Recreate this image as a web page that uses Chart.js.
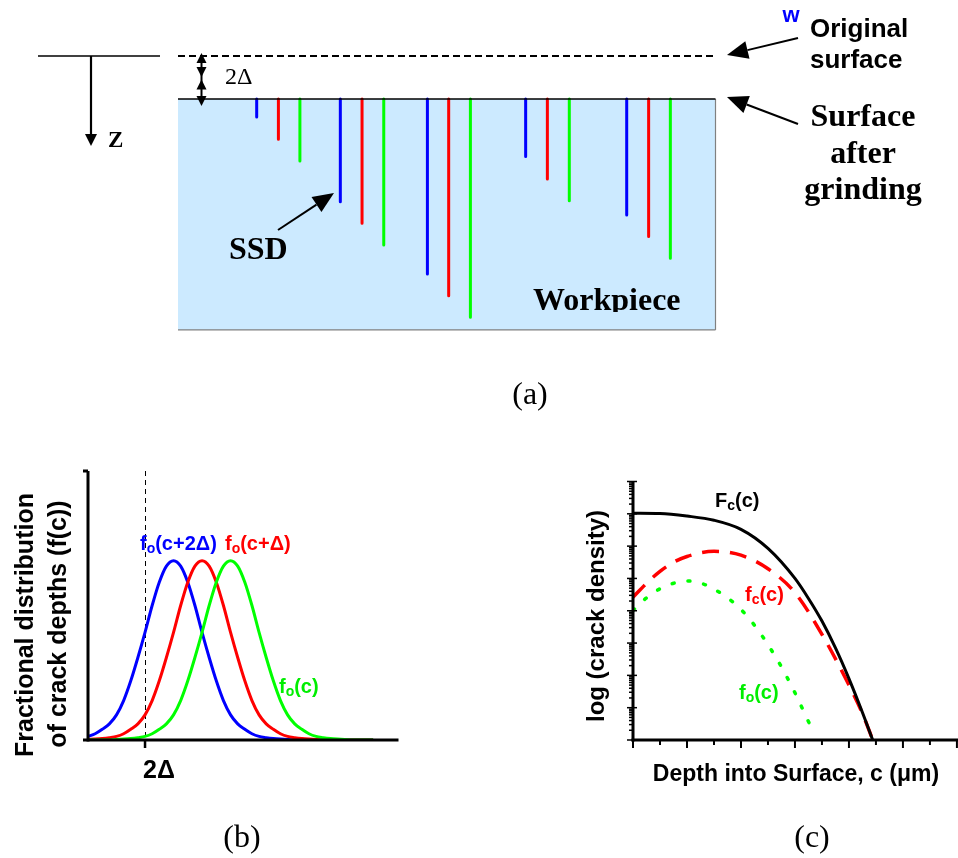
<!DOCTYPE html>
<html>
<head>
<meta charset="utf-8">
<title>Subsurface damage after grinding</title>
<script src="https://cdn.jsdelivr.net/npm/chart.js@4.4.1/dist/chart.umd.min.js"></script>
<style>
  body { margin: 0; background: #ffffff; }
  #figure { position: relative; width: 958px; height: 858px; }
  #figure canvas { position: absolute; left: 0; top: 0; }
</style>
</head>
<body>
<div id="figure">
  <canvas id="js--chart-a" width="958" height="858"></canvas>
  <canvas id="js--chart-b" width="958" height="858"></canvas>
  <canvas id="js--chart-c" width="958" height="858"></canvas>
</div>
<script>
// ---- panel (a): cracks under the ground surface, positions and depths in units of delta
const blueCrackX = [3.66, 7.55, 11.6, 16.17, 20.87];
const redCrackX = [4.67, 8.56, 12.59, 17.18, 21.89];
const greenCrackX = [5.67, 9.57, 13.6, 18.2, 22.9];
const blueCrackDepth = [0.84, 4.78, 8.14, 2.68, 5.40];
const redCrackDepth = [1.87, 5.78, 9.15, 3.72, 6.40];
const greenCrackDepth = [2.88, 6.79, 10.15, 4.73, 7.41];
const workpieceWidth = 25;
const workpieceDepth = 10.74;
const removedDepth = 2; // 2 delta taken off by grinding

// ---- panel (b): fractional distribution of crack depths, c in units of delta
const depthB = [0, 0.25, 0.5, 0.75, 1, 1.25, 1.5, 1.75, 2, 2.25, 2.5, 2.75, 3, 3.25, 3.5, 3.75, 4, 4.25, 4.5, 4.75,
    5, 5.25, 5.5, 5.75, 6, 6.25, 6.5, 6.75, 7, 7.25, 7.5, 7.75, 8, 8.25, 8.5, 8.75, 9, 9.25, 9.5, 9.75, 10];
const foPlus2 = [0.02, 0.035, 0.06, 0.09, 0.14, 0.22, 0.33, 0.46, 0.6, 0.75, 0.88, 0.97, 1.0, 0.97, 0.88, 0.75, 0.6, 0.46, 0.33, 0.22,
    0.14, 0.09, 0.06, 0.035, 0.02, 0.013, 0.008, 0.005, 0.003, 0, 0, 0, 0, 0, 0, 0, 0, 0, 0, 0, 0];
const foPlus1 = [0.003, 0.005, 0.008, 0.013, 0.02, 0.035, 0.06, 0.09, 0.14, 0.22, 0.33, 0.46, 0.6, 0.75, 0.88, 0.97, 1.0, 0.97, 0.88, 0.75,
    0.6, 0.46, 0.33, 0.22, 0.14, 0.09, 0.06, 0.035, 0.02, 0.013, 0.008, 0.005, 0.003, 0, 0, 0, 0, 0, 0, 0, 0];
const foB = [0, 0, 0, 0, 0.003, 0.005, 0.008, 0.013, 0.02, 0.035, 0.06, 0.09, 0.14, 0.22, 0.33, 0.46, 0.6, 0.75, 0.88, 0.97,
    1.0, 0.97, 0.88, 0.75, 0.6, 0.46, 0.33, 0.22, 0.14, 0.09, 0.06, 0.035, 0.02, 0.013, 0.008, 0.005, 0.003, 0, 0, 0, 0];
const tickB = 2; // the 2 delta mark

// ---- panel (c): log10 of crack density against depth
const bigFcX = [0, 0.5, 1, 1.5, 2, 2.5, 3, 3.25, 3.5, 3.75, 4, 4.25, 4.44];
const bigFcLog = [7.02, 7.01, 6.93, 6.80, 6.52, 5.93, 5.0, 4.38, 3.68, 2.85, 1.9, 0.85, 0.0];
const fcX = [0, 0.25, 0.5, 0.75, 1, 1.5, 2, 2.5, 3, 3.5, 4, 4.25, 4.44];
const fcLog = [4.42, 4.85, 5.22, 5.5, 5.68, 5.84, 5.72, 5.3, 4.56, 3.27, 1.7, 0.82, 0.0];
const foX = [0, 0.25, 0.5, 0.75, 1, 1.25, 1.5, 1.75, 2, 2.25, 2.5, 2.75, 3, 3.25, 3.34];
const foLog = [4.01, 4.4, 4.68, 4.85, 4.92, 4.86, 4.67, 4.4, 4.04, 3.55, 2.95, 2.26, 1.46, 0.57, 0.26];
const xTicksC = [0, 0.5, 1, 1.5, 2, 2.5, 3, 3.5, 4, 4.5, 5, 5.5, 6];
const decadesC = 8;

const SANS = "'Liberation Sans', Arial, sans-serif";
const SERIF = "'Liberation Serif', 'Times New Roman', serif";

function line(ctx, x1, y1, x2, y2) {
    ctx.beginPath();
    ctx.moveTo(x1, y1);
    ctx.lineTo(x2, y2);
    ctx.stroke();
}

function arrow(ctx, x1, y1, x2, y2, len, half, lw) {
    const a = Math.atan2(y2 - y1, x2 - x1);
    const bx = x2 - len * Math.cos(a);
    const by = y2 - len * Math.sin(a);
    ctx.lineWidth = lw;
    line(ctx, x1, y1, bx, by);
    ctx.beginPath();
    ctx.moveTo(x2, y2);
    ctx.lineTo(bx + half * Math.sin(a), by - half * Math.cos(a));
    ctx.lineTo(bx - half * Math.sin(a), by + half * Math.cos(a));
    ctx.closePath();
    ctx.fill();
}

// vertical arrow head only, dir 1 = pointing down
function head(ctx, x, tipY, dir, len, half) {
    ctx.beginPath();
    ctx.moveTo(x, tipY);
    ctx.lineTo(x - half, tipY - dir * len);
    ctx.lineTo(x + half, tipY - dir * len);
    ctx.closePath();
    ctx.fill();
}

// text with subscripts: parts = [[text, isSub], ...]
function richText(ctx, parts, x, y, size, color) {
    ctx.fillStyle = color;
    ctx.textAlign = "left";
    ctx.textBaseline = "alphabetic";
    let cx = x;
    parts.forEach(function (p) {
        const s = p[1] ? Math.round(size * 0.68) : size;
        ctx.font = "bold " + s + "px " + SANS;
        ctx.fillText(p[0], cx, p[1] ? y + size * 0.16 : y);
        cx += ctx.measureText(p[0]).width;
    });
}

function rotatedText(ctx, text, baseX, centerY, font) {
    ctx.save();
    ctx.translate(baseX, centerY);
    ctx.rotate(-Math.PI / 2);
    ctx.font = font;
    ctx.fillStyle = "#000";
    ctx.textAlign = "center";
    ctx.textBaseline = "alphabetic";
    ctx.fillText(text, 0, 0);
    ctx.restore();
}

function plainText(ctx, text, x, y, font, color, align) {
    ctx.font = font;
    ctx.fillStyle = color;
    ctx.textAlign = align || "left";
    ctx.textBaseline = "middle";
    ctx.fillText(text, x, y);
}

const common = {
    responsive: false,
    animation: false,
    events: [],
    plugins: { legend: { display: false }, tooltip: { enabled: false } }
};

// ================= panel (a) =================
const crackDatasets = [];
[[blueCrackX, blueCrackDepth, "#0000ff"], [redCrackX, redCrackDepth, "#ff0000"], [greenCrackX, greenCrackDepth, "#00ff00"]].forEach(function (set) {
    set[0].forEach(function (x, i) {
        crackDatasets.push({
            data: [{ x: x, y: 0 }, { x: x, y: set[1][i] }],
            borderColor: set[2],
            borderWidth: 3,
            borderCapStyle: "round",
            pointRadius: 0,
            clip: false
        });
    });
});

const aUnit = 21.5; // pixels per delta
const panelA = {
    id: "panelA",
    beforeDatasetsDraw(chart) {
        const ctx = chart.ctx, x = chart.scales.x, y = chart.scales.y;
        const left = x.getPixelForValue(0), right = x.getPixelForValue(workpieceWidth);
        const top = y.getPixelForValue(0), bottom = y.getPixelForValue(workpieceDepth);
        ctx.save();
        ctx.fillStyle = "#cceaff";
        ctx.fillRect(left, top, right - left, bottom - top);
        ctx.strokeStyle = "#808080";
        ctx.lineWidth = 1.2;
        line(ctx, right, top, right, bottom);
        line(ctx, left, bottom, right, bottom);
        ctx.restore();
    },
    afterDatasetsDraw(chart) {
        const ctx = chart.ctx, x = chart.scales.x, y = chart.scales.y;
        const left = x.getPixelForValue(0), right = x.getPixelForValue(workpieceWidth);
        const surf = y.getPixelForValue(0), orig = y.getPixelForValue(-removedDepth);
        const mid = y.getPixelForValue(-removedDepth / 2);
        ctx.save();
        ctx.strokeStyle = "#000";
        ctx.fillStyle = "#000";
        // ground surface
        ctx.lineWidth = 1.5;
        line(ctx, left, surf, right, surf);
        // original surface
        ctx.lineWidth = 2;
        ctx.setLineDash([7, 4]);
        line(ctx, left, orig, right, orig);
        ctx.setLineDash([]);
        // z reference
        ctx.lineWidth = 1.5;
        line(ctx, 38, orig, 160, orig);
        arrow(ctx, 91, orig, 91, 146, 12, 6, 2.2);
        // 2 delta double arrows
        const ax = Math.round(x.getPixelForValue(1.07)) + 0.5;
        ctx.lineWidth = 2;
        line(ctx, ax, orig, ax, surf + 4);
        head(ctx, ax, orig - 3, -1, 10, 5);
        head(ctx, ax, mid - 0.5, 1, 10, 5);
        head(ctx, ax, mid + 2, -1, 10, 5);
        head(ctx, ax, surf + 7, 1, 10, 5);
        // callout arrows
        arrow(ctx, 798, 38, 727, 55, 21, 9, 2);
        arrow(ctx, 798, 124, 727, 97, 21, 9, 2);
        arrow(ctx, 278, 230, 334, 193, 21, 9, 2);
        // texts
        plainText(ctx, "Z", 108, 141, "bold 23px " + SERIF, "#000");
        plainText(ctx, "2Δ", 225, 78, "24px " + SERIF, "#000");
        plainText(ctx, "SSD", 229, 251, "bold 32px " + SERIF, "#000");
        plainText(ctx, "w", 791, 16, "bold 22px " + SANS, "#0000ff", "center");
        plainText(ctx, "Original", 810, 30, "bold 26px " + SANS, "#000");
        plainText(ctx, "surface", 810, 61, "bold 26px " + SANS, "#000");
        plainText(ctx, "Surface", 863, 118, "bold 32px " + SERIF, "#000", "center");
        plainText(ctx, "after", 863, 155, "bold 32px " + SERIF, "#000", "center");
        plainText(ctx, "grinding", 863, 191, "bold 32px " + SERIF, "#000", "center");
        plainText(ctx, "(a)", 530, 396, "32px " + SERIF, "#000", "center");
        ctx.beginPath();
        ctx.rect(left, surf, right - left, 312 - surf);
        ctx.clip();
        ctx.font = "bold 32px " + SERIF;
        ctx.textBaseline = "alphabetic";
        ctx.textAlign = "left";
        ctx.fillText("Workpiece", 533, 310);
        ctx.restore();
    }
};

new Chart(document.getElementById("js--chart-a"), {
    type: "line",
    data: { datasets: crackDatasets },
    options: Object.assign({}, common, {
        layout: { padding: 0 },
        scales: {
            x: { type: "linear", display: false, min: -178 / aUnit, max: (958 - 178) / aUnit },
            y: { type: "linear", display: false, reverse: true, min: -99 / aUnit, max: (858 - 99) / aUnit }
        }
    }),
    plugins: [panelA]
});

// ================= panel (b) =================
const panelB = {
    id: "panelB",
    beforeDatasetsDraw(chart) {
        const ctx = chart.ctx, x = chart.scales.x, y = chart.scales.y;
        const px = Math.round(x.getPixelForValue(tickB)) + 0.5;
        ctx.save();
        ctx.strokeStyle = "#000";
        ctx.lineWidth = 1;
        ctx.setLineDash([5, 4]);
        line(ctx, px, y.top, px, y.bottom);
        ctx.restore();
    },
    afterDatasetsDraw(chart) {
        const ctx = chart.ctx, x = chart.scales.x, y = chart.scales.y;
        ctx.save();
        ctx.strokeStyle = "#000";
        ctx.lineWidth = 3;
        line(ctx, x.left, y.top, x.left, y.bottom + 1.5);
        line(ctx, x.left - 5, y.bottom, x.right, y.bottom);
        line(ctx, x.left - 5, y.top, x.left, y.top);
        const px = x.getPixelForValue(tickB);
        ctx.lineWidth = 2.5;
        line(ctx, px, y.bottom, px, y.bottom + 8);
        plainText(ctx, "2Δ", px + 14, 771, "bold 25px " + SANS, "#000", "center");
        richText(ctx, [["f", 0], ["o", 1], ["(c+2Δ)", 0]], 140, 550, 20, "#0000ff");
        richText(ctx, [["f", 0], ["o", 1], ["(c+Δ)", 0]], 225, 550, 20, "#ff0000");
        richText(ctx, [["f", 0], ["o", 1], ["(c)", 0]], 279, 693, 20, "#00ee00");
        rotatedText(ctx, "Fractional distribution", 33, 625, "bold 25px " + SANS);
        rotatedText(ctx, "of crack depths (f(c))", 66, 624, "bold 25px " + SANS);
        plainText(ctx, "(b)", 242, 839, "32px " + SERIF, "#000", "center");
        ctx.restore();
    }
};

function points(xs, ys) {
    return xs.map(function (v, i) { return { x: v, y: ys[i] }; });
}

new Chart(document.getElementById("js--chart-b"), {
    type: "line",
    data: {
        datasets: [
            { label: "fo(c)", data: points(depthB, foB), borderColor: "#00ff00", order: 1 },
            { label: "fo(c+Δ)", data: points(depthB, foPlus1), borderColor: "#ff0000", order: 2 },
            { label: "fo(c+2Δ)", data: points(depthB, foPlus2), borderColor: "#0000ff", order: 3 }
        ]
    },
    options: Object.assign({}, common, {
        layout: { padding: { left: 88, top: 471, right: 559.5, bottom: 118 } },
        elements: {
            line: { borderWidth: 3, cubicInterpolationMode: "monotone", fill: false },
            point: { radius: 0 }
        },
        scales: {
            x: { type: "linear", display: false, min: 0, max: 10.89 },
            y: { type: "linear", display: false, min: 0, max: 1.5 }
        }
    }),
    plugins: [panelB]
});

// ================= panel (c) =================
const panelC = {
    id: "panelC",
    afterDatasetsDraw(chart) {
        const ctx = chart.ctx, x = chart.scales.x, y = chart.scales.y;
        ctx.save();
        ctx.strokeStyle = "#000";
        ctx.lineWidth = 3;
        line(ctx, x.left, y.top, x.left, y.bottom + 1.5);
        line(ctx, x.left - 1.5, y.bottom, x.right, y.bottom);
        ctx.lineWidth = 2;
        xTicksC.forEach(function (v) {
            const px = x.getPixelForValue(v);
            line(ctx, px, y.bottom, px, y.bottom + (v % 1 === 0 ? 8 : 5));
        });
        ctx.lineWidth = 1.5;
        for (let k = 0; k <= decadesC; k++) {
            for (let m = 1; m <= 9; m++) {
                if (k === decadesC && m > 1) break;
                const py = y.getPixelForValue(m * Math.pow(10, k));
                if (m === 1) line(ctx, x.left - 6, py, x.left + 4, py);
                else line(ctx, x.left - 4, py, x.left, py);
            }
        }
        richText(ctx, [["F", 0], ["c", 1], ["(c)", 0]], 715, 507, 20, "#000");
        richText(ctx, [["f", 0], ["c", 1], ["(c)", 0]], 745, 601, 20, "#ff0000");
        richText(ctx, [["f", 0], ["o", 1], ["(c)", 0]], 739, 699, 20, "#00ee00");
        rotatedText(ctx, "log (crack density)", 604, 616, "bold 24px " + SANS);
        plainText(ctx, "Depth into Surface, c (μm)", 796, 775, "bold 23px " + SANS, "#000", "center");
        plainText(ctx, "(c)", 812, 839, "32px " + SERIF, "#000", "center");
        ctx.restore();
    }
};

function logPoints(xs, logs) {
    return xs.map(function (v, i) { return { x: v, y: Math.pow(10, logs[i]) }; });
}

new Chart(document.getElementById("js--chart-c"), {
    type: "line",
    data: {
        datasets: [
            { label: "Fc(c)", data: logPoints(bigFcX, bigFcLog), borderColor: "#000000", borderWidth: 3, order: 1 },
            { label: "fc(c)", data: logPoints(fcX, fcLog), borderColor: "#ff0000", borderWidth: 3.5, borderDash: [17, 11], order: 2 },
            { label: "fo(c)", data: logPoints(foX, foLog), borderColor: "#00ff00", borderWidth: 3.5, borderDash: [2, 14], borderCapStyle: "round", order: 3 }
        ]
    },
    options: Object.assign({}, common, {
        layout: { padding: { left: 633, top: 481.5, right: 0, bottom: 118 } },
        elements: {
            line: { cubicInterpolationMode: "monotone", fill: false },
            point: { radius: 0 }
        },
        scales: {
            x: { type: "linear", display: false, min: 0, max: 6.02 },
            y: { type: "logarithmic", display: false, min: 1, max: Math.pow(10, decadesC) }
        }
    }),
    plugins: [panelC]
});
</script>
</body>
</html>
